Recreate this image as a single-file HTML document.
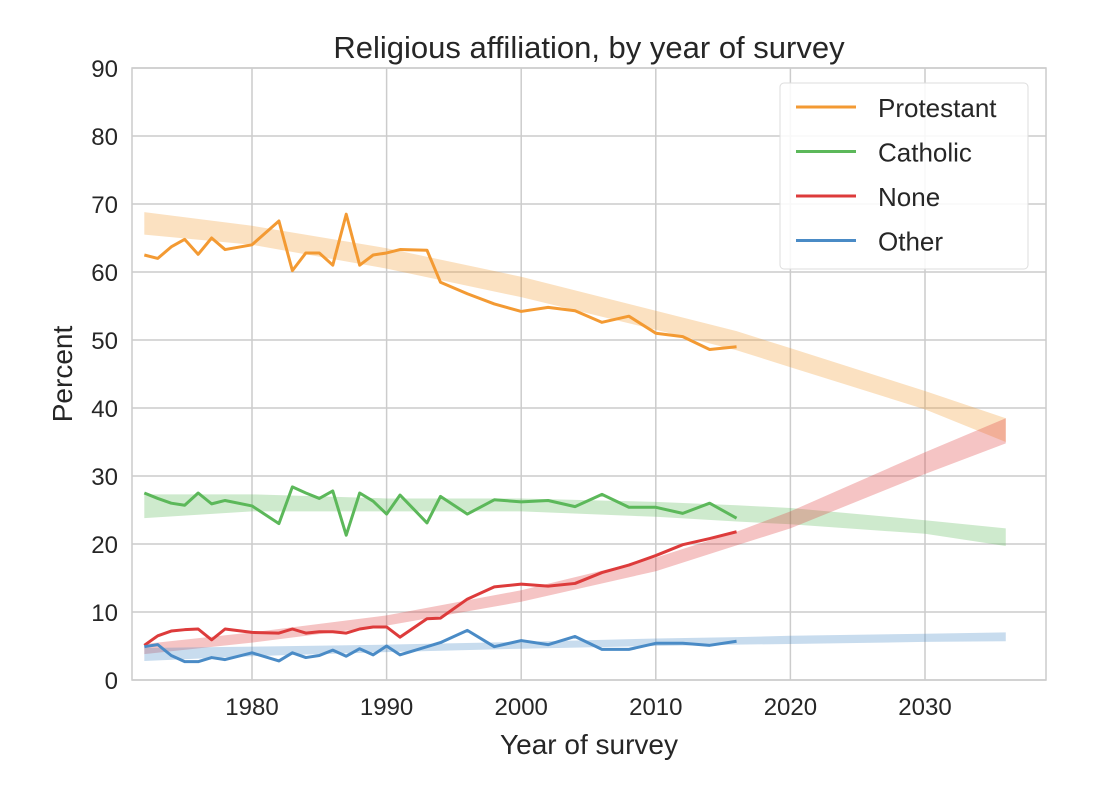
<!DOCTYPE html>
<html><head><meta charset="utf-8"><style>
body{margin:0;background:#fff;font-family:"Liberation Sans","DejaVu Sans",sans-serif;}
svg text{fill:#262626;}
</style></head><body>
<svg id="chart" width="1108" height="790" xmlns="http://www.w3.org/2000/svg">
<g id="grid"></g>
<g id="bands"></g>
<g id="lines"></g>
<g id="axes"></g>
<text x="589" y="58" text-anchor="middle" font-size="31">Religious affiliation, by year of survey</text>
<text x="589" y="754" text-anchor="middle" font-size="28">Year of survey</text>
<text transform="translate(72,374) rotate(-90)" text-anchor="middle" font-size="28">Percent</text>
<g id="legend"></g>
</svg>
<script>
const years=[1972,1973,1974,1975,1976,1977,1978,1980,1982,1983,1984,1985,1986,1987,1988,1989,1990,1991,1993,1994,1996,1998,2000,2002,2004,2006,2008,2010,2012,2014,2016];
const protestant=[62.5,62,63.7,64.8,62.6,65,63.3,64,67.5,60.2,62.8,62.8,61,68.5,61,62.5,62.8,63.3,63.2,58.5,56.8,55.3,54.2,54.8,54.3,52.6,53.5,51,50.5,48.6,49];
const catholic=[27.5,26.7,26,25.7,27.5,25.9,26.4,25.6,23,28.4,27.5,26.7,27.8,21.3,27.5,26.3,24.4,27.2,23.1,27,24.4,26.5,26.2,26.4,25.5,27.3,25.4,25.4,24.5,26,23.8];
const none=[5.1,6.5,7.2,7.4,7.5,5.9,7.5,7,6.9,7.5,6.9,7.1,7.1,6.9,7.5,7.8,7.8,6.3,9,9.1,11.9,13.7,14.1,13.8,14.2,15.8,16.9,18.3,19.9,20.8,21.8];
const other=[4.9,5.2,3.6,2.7,2.7,3.3,3,4,2.8,4,3.3,3.6,4.4,3.5,4.6,3.7,5,3.7,4.9,5.5,7.3,4.9,5.8,5.2,6.4,4.5,4.5,5.4,5.4,5.1,5.7];
const bandYears=[1972,1980,1990,2000,2010,2016,2020,2030,2036];
const protLow=[65.5,64,60.5,56.3,51.5,48.5,46,39.8,35];
const protHigh=[68.8,66.8,63.5,59.3,54.3,51.3,48.8,42.5,38.5];
const cathLow=[23.8,24.8,24.8,24.8,24,23.3,22.9,21.5,19.7];
const cathHigh=[27.3,27.3,26.7,26.7,26.2,25.7,25.3,23.5,22.3];
const noneLow=[3.8,5.5,8,11.5,16,19.8,22.3,30.3,34.8];
const noneHigh=[5.3,7,9.5,13.2,18,21.8,24.8,33.5,38.5];
const otherLow=[2.8,3.5,4.1,4.6,5,5.2,5.3,5.6,5.7];
const otherHigh=[4.7,4.9,5.2,5.6,6.1,6.3,6.5,6.8,7];
const xTicks=[1980,1990,2000,2010,2020,2030];
const yTicks=[0,10,20,30,40,50,60,70,80,90];
const seriesNames=["Protestant","Catholic","None","Other"];

const L=132,R=1046,T=68,B=680;
const x=v=>252+(v-1980)*13.46;
const y=v=>B-(v/90)*(B-T);
const NS="http://www.w3.org/2000/svg";
function mk(tag,attrs,parent){const e=document.createElementNS(NS,tag);for(const k in attrs)e.setAttribute(k,attrs[k]);parent.appendChild(e);return e;}
const grid=document.getElementById('grid'),axes=document.getElementById('axes');
mk('rect',{x:L,y:T,width:R-L,height:B-T,fill:'none',stroke:'#cccccc','stroke-width':1.5},grid);
xTicks.forEach(t=>{
 const l=mk('line',{x1:x(t),x2:x(t),y1:T,y2:B,stroke:'#cccccc','stroke-width':1.5},grid);
 
 
 const tx=mk('text',{x:x(t),y:B+35,'text-anchor':'middle','font-size':24},axes);tx.textContent=t;
 
 
});
yTicks.forEach(t=>{
 const l=mk('line',{x1:L,x2:R,y1:y(t),y2:y(t),stroke:'#cccccc','stroke-width':1.5},grid);
 
 
 const tx=mk('text',{x:L-14,y:y(t)+9,'text-anchor':'end','font-size':24},axes);tx.textContent=t;
 
 
});
const colors=['#f39a33','#5cb85a','#dd3b3b','#4a8bc6'];
const bands=[[protLow,protHigh],[cathLow,cathHigh],[noneLow,noneHigh],[otherLow,otherHigh]];
const series=[protestant,catholic,none,other];
const bg=document.getElementById('bands'),lg=document.getElementById('lines');
bands.forEach((b,i)=>{
 let pts=bandYears.map((yr,j)=>x(yr)+','+y(b[1][j]));
 pts=pts.concat(bandYears.map((yr,j)=>x(yr)+','+y(b[0][j])).reverse());
 const p=mk('polygon',{points:pts.join(' '),fill:colors[i],'fill-opacity':0.3},bg);
 
 
});
series.forEach((s,i)=>{
 const p=mk('polyline',{points:years.map((yr,j)=>x(yr)+','+y(s[j])).join(' '),fill:'none',stroke:colors[i],'stroke-width':3,'stroke-linejoin':'round'},lg);
 
 
});
const leg=document.getElementById('legend');
mk('rect',{x:780,y:83,width:248,height:186,fill:'#fff','fill-opacity':0.85,stroke:'#dddddd',rx:4},leg);
seriesNames.forEach((n,i)=>{
 const cy=107+i*44.5;
 const l=mk('line',{x1:796,x2:856,y1:cy,y2:cy,stroke:colors[i],'stroke-width':3},leg);
 
 
 const t=mk('text',{x:878,y:cy+10,'font-size':26},leg);t.textContent=n;
 
 
});
</script>
</body></html>
